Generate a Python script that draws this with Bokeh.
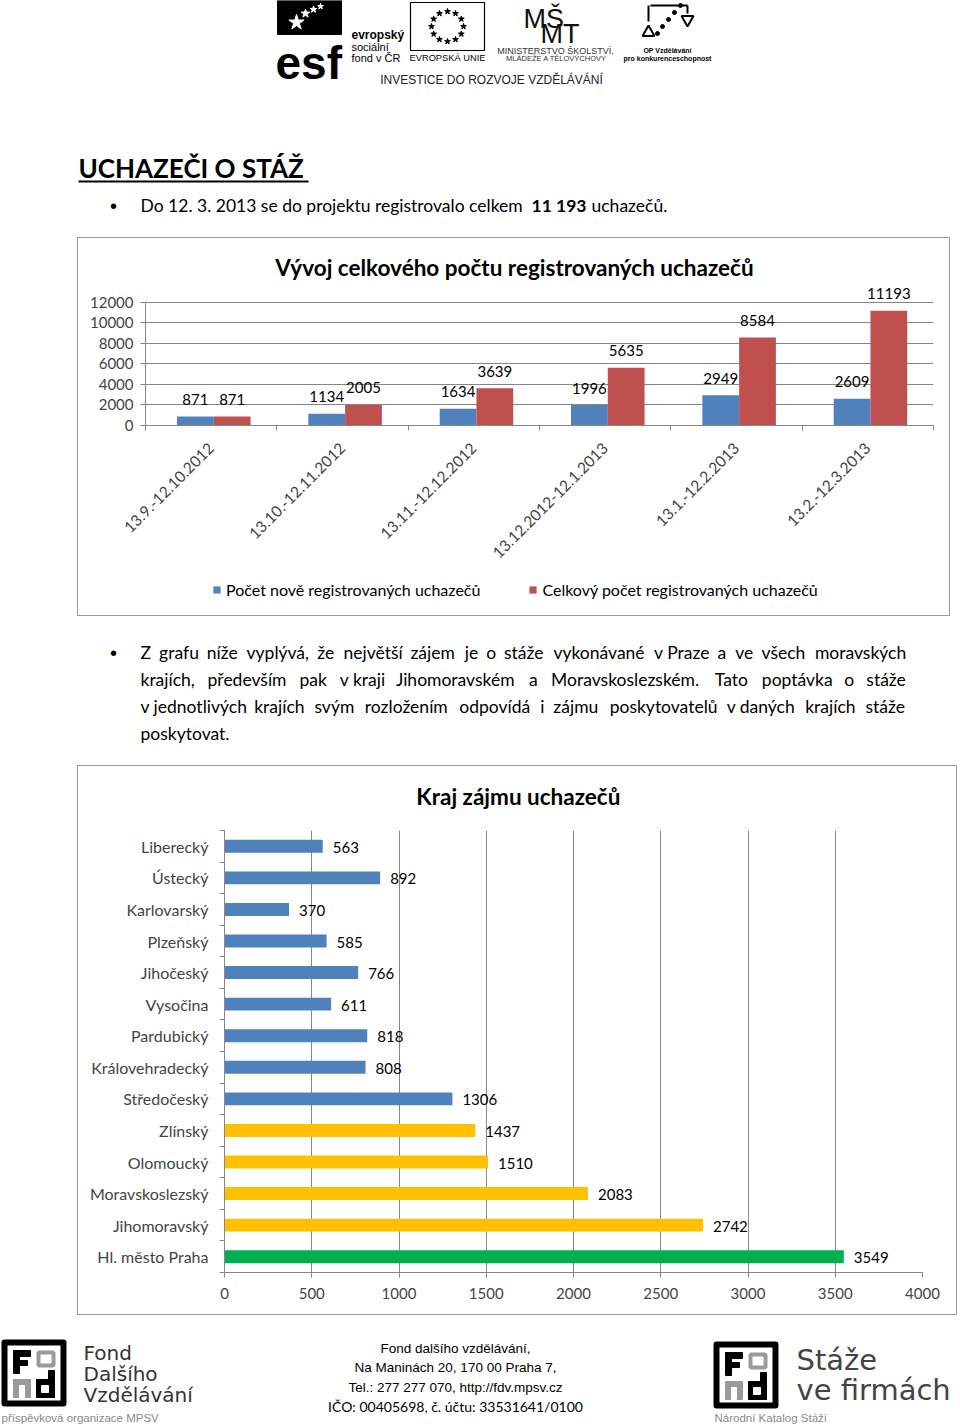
import unicodedata
import numpy as np
from math import pi
from bokeh.plotting import figure
from bokeh.models import Range1d, FixedTicker, Legend, LegendItem, Spacer
from bokeh.layouts import column, row
from bokeh.core.properties import value
from bokeh.embed import file_html
from bokeh.resources import INLINE

# ---------------- data ----------------
periods = ["13.9.-12.10.2012", "13.10.-12.11.2012", "13.11.-12.12.2012",
           "13.12.2012-12.1.2013", "13.1.-12.2.2013", "13.2.-12.3.2013"]
new_applicants = [871, 1134, 1634, 1996, 2949, 2609]
total_applicants = [871, 2005, 3639, 5635, 8584, 11193]
count_ticks = [0, 2000, 4000, 6000, 8000, 10000, 12000]
series_names = ["Počet nově registrovaných uchazečů", "Celkový počet registrovaných uchazečů"]

regions = ["Liberecký", "Ústecký", "Karlovarský", "Plzeňský", "Jihočeský", "Vysočina",
           "Pardubický", "Královehradecký", "Středočeský", "Zlínský", "Olomoucký",
           "Moravskoslezský", "Jihomoravský", "Hl. město Praha"]
region_counts = [563, 892, 370, 585, 766, 611, 818, 808, 1306, 1437, 1510, 2083, 2742, 3549]
moravian_regions = ["Zlínský", "Olomoucký", "Moravskoslezský", "Jihomoravský"]
capital_region = "Hl. město Praha"
region_ticks = [0, 500, 1000, 1500, 2000, 2500, 3000, 3500, 4000]

# ---------------- style ----------------
FONT = "Lato"
SANS = "Liberation Sans"
BLUE, RED, YELLOW, GREEN = "#4F81BD", "#C0504D", "#FFC000", "#00B050"
GRID = "#868686"
EDGE = "1px solid #9a9a9a"
SIDES = {"t": "top", "l": "left", "r": "right", "b": "bottom"}


def box_styles(sides):
    return {f"border-{SIDES[s]}": EDGE for s in sides}


def sheet(x0, y0, w, h, sides="", mb_left=0, mb_right=0):
    """A plain drawing surface whose data units are the page's pixels."""
    ix0 = x0 + (1 if "l" in sides else 0) + mb_left
    ix1 = x0 + w - (1 if "r" in sides else 0) - mb_right
    iy0 = y0 + (1 if "t" in sides else 0)
    iy1 = y0 + h - (1 if "b" in sides else 0)
    p = figure(width=w, height=h, x_range=Range1d(ix0, ix1), y_range=Range1d(iy1, iy0),
               x_axis_location=None, y_axis_location=None, min_border=0,
               min_border_left=mb_left, min_border_right=mb_right,
               toolbar_location=None, output_backend="svg", styles=box_styles(sides))
    p.xgrid.visible = False
    p.ygrid.visible = False
    p.outline_line_color = None
    return p


def put(p, x, y, s, size, font=FONT, style="normal", color="black", align="left", baseline="middle"):
    p.text(x=[x], y=[y], text=[s], text_font=value(font), text_font_size=f"{size}px",
           text_font_style=style, text_color=color, text_align=align, text_baseline=baseline)


# ---------------- header ----------------
hd = sheet(0, 0, 960, 237)
# ESF logo
hd.quad(left=[277], right=[341], top=[0], bottom=[34], color="black")
put(hd, 275, 62, "esf", 46, SANS, "bold", baseline="alphabetic")
hd.scatter(x=[296, 305, 313, 320], y=[22, 13, 9, 6], marker="star", size=[16, 9, 7, 6], color="white")
put(hd, 351, 34, "evropský", 12, SANS, "bold")
put(hd, 351, 46, "sociální", 11, SANS)
put(hd, 351, 57, "fond v ČR", 11, SANS)
# EU flag
hd.quad(left=[410], right=[484], top=[2], bottom=[50], fill_color=None, line_color="black", line_width=1.2)
ang = np.arange(12) * pi / 6
hd.scatter(x=447 + 16 * np.cos(ang), y=26 + 15 * np.sin(ang), marker="star", size=6, color="black")
put(hd, 447, 57, "EVROPSKÁ UNIE", 9.3, SANS, align="center")
# MSMT
put(hd, 523, 18, "MŠ", 27, SANS, color="#111111")
put(hd, 540, 33, "MT", 27, SANS, color="#111111")
put(hd, 555, 50, "MINISTERSTVO ŠKOLSTVÍ,", 9, SANS, color="#333333", align="center")
put(hd, 556, 58, "MLÁDEŽE A TĚLOVÝCHOVY", 7.5, SANS, color="#333333", align="center")
# OP logo
hd.multi_line(xs=[[650, 687], [648, 648], [687, 687]], ys=[[5, 5], [5, 21], [5, 13]],
              line_color="black", line_width=2)
hd.scatter(x=[648, 687], y=[32, 19], marker=["triangle", "inverted_triangle"], size=12,
           fill_color="white", line_color="black", line_width=2)
hd.scatter(x=[657, 662, 668, 674, 680], y=[33, 26, 19, 12, 5], marker="circle", size=4, color="black")
put(hd, 667, 50, "OP Vzdělávání", 7, SANS, "bold", align="center")
put(hd, 667, 58, "pro konkurenceschopnost", 7, SANS, "bold", align="center")
put(hd, 491, 79, "INVESTICE DO ROZVOJE VZDĚLÁVÁNÍ", 12, SANS, color="#222222", align="center")
# heading + first bullet
put(hd, 78, 167, "UCHAZEČI O STÁŽ", 26, FONT, "bold")
hd.line(x=[78, 308], y=[181, 181], line_color="black", line_width=2)
put(hd, 113, 205, "•", 20, SANS, align="center")
put(hd, 140, 205, "Do 12. 3. 2013 se do projektu registrovalo celkem", 17.5)
put(hd, 531, 205, "11 193", 17.5, style="bold")
put(hd, 591, 205, "uchazečů.", 17.5)

# ---------------- chart 1 ----------------
C1_L, C1_R = 67, 18          # frame borders inside the 873px box
t1 = sheet(77, 237, 873, 45, "tlr", C1_L, C1_R)
put(t1, 513, 266, "Vývoj celkového počtu registrovaných uchazečů", 22.5, FONT, "bold", align="center")

cat_x = np.arange(len(periods)) + 0.5
BAR_W = 0.28
# frame spans page y 282..426; the 12000 grid line sits at y 302
p1 = figure(width=873, height=284, x_range=Range1d(0, len(periods)),
            y_range=Range1d(0, count_ticks[-1] * 144 / 124),
            min_border_left=C1_L, min_border_right=C1_R, min_border_top=0, min_border_bottom=140,
            toolbar_location=None, output_backend="svg", styles=box_styles("lr"))
p1.outline_line_color = None
p1.xgrid.visible = False
p1.ygrid.grid_line_color = GRID
p1.vbar(x=cat_x - BAR_W / 2 + 0.02, top=new_applicants, width=BAR_W, fill_color=BLUE, line_color=None)
p1.vbar(x=cat_x + BAR_W / 2 + 0.02, top=total_applicants, width=BAR_W, fill_color=RED, line_color=None)
for xs, vals in ((cat_x - BAR_W / 2 + 0.02, new_applicants), (cat_x + BAR_W / 2 + 0.02, total_applicants)):
    p1.text(x=xs, y=vals, text=[str(v) for v in vals], text_font=value(FONT), text_font_size="15px",
            text_align="center", text_baseline="middle", y_offset=-17)

xa = p1.xaxis[0]
xa.ticker = FixedTicker(ticks=list(cat_x), minor_ticks=list(range(len(periods) + 1)))
xa.major_label_overrides = {float(c): lab for c, lab in zip(cat_x, periods)}
xa.major_tick_out = 0
xa.major_tick_in = 0
xa.major_tick_line_color = None
xa.minor_tick_line_color = GRID
xa.minor_tick_out = 5
xa.minor_tick_in = 0
xa.axis_line_color = GRID
xa.major_label_orientation = pi / 4
xa.major_label_text_font = FONT
xa.major_label_text_font_size = "15.5px"
xa.major_label_standoff = 15

ya = p1.yaxis[0]
ya.ticker = FixedTicker(ticks=count_ticks)
ya.bounds = (count_ticks[0], count_ticks[-1])
ya.minor_tick_line_color = None
ya.major_tick_out = 5
ya.major_tick_in = 0
ya.major_tick_line_color = GRID
ya.axis_line_color = GRID
ya.major_label_text_font = FONT
ya.major_label_text_font_size = "15px"
ya.major_label_standoff = 7

l1 = sheet(77, 566, 873, 50, "lrb", C1_L, C1_R)
key_new = l1.vbar(x=[-10000], top=[-10000], width=1, fill_color=BLUE, line_color=None)
key_tot = l1.vbar(x=[-10000], top=[-10000], width=1, fill_color=RED, line_color=None)
legend = Legend(items=[LegendItem(label=series_names[0], renderers=[key_new]),
                       LegendItem(label=series_names[1], renderers=[key_tot])],
                orientation="horizontal", location=(67, 17), label_text_font=FONT,
                label_text_font_size="16px", label_text_color="black", glyph_width=9, glyph_height=9,
                label_standoff=5, spacing=48, border_line_color=None, background_fill_alpha=0,
                padding=0, margin=0)
l1.add_layout(legend)

# ---------------- paragraph (justified like the original) ----------------
para = sheet(0, 616, 960, 149)
put(para, 113, 652, "•", 20, SANS, align="center")
lines = ["Z grafu níže vyplývá, že největší zájem je o stáže vykonávané v Praze a ve všech moravských",
         "krajích, především pak v kraji Jihomoravském a Moravskoslezském. Tato poptávka o stáže",
         "v jednotlivých krajích svým rozložením odpovídá i zájmu poskytovatelů v daných krajích stáže",
         "poskytovat."]
PARA_SIZE = 17.5
natural_px = [701, 678, 710]     # rendered width of each full line at PARA_SIZE
LINE_X0, LINE_X1 = 140, 907
SPACE_PX = 3.6
CHAR_W = {"a": .556, "b": .556, "c": .5, "d": .556, "e": .556, "f": .278, "g": .556, "h": .556,
          "i": .222, "j": .222, "k": .5, "l": .222, "m": .833, "n": .556, "o": .556, "p": .556,
          "r": .333, "s": .5, "t": .278, "u": .556, "v": .5, "y": .5, "z": .5, "Z": .611,
          "T": .611, "J": .5, "M": .833, ",": .278, ".": .278, " ": .2}


def est_w(s):
    return sum(CHAR_W.get(unicodedata.normalize("NFD", ch)[0], .55) for ch in s)


def units_of(line):
    toks, out = line.split(" "), []
    i = 0
    while i < len(toks):
        if toks[i] == "v" and i + 1 < len(toks):
            out.append(toks[i] + " " + toks[i + 1])
            i += 2
        else:
            out.append(toks[i])
            i += 1
    return out


for li, ln in enumerate(lines):
    y = 652 + 27 * li
    if li >= len(natural_px):
        put(para, LINE_X0, y, ln, PARA_SIZE)
        continue
    units = units_of(ln)
    gaps = len(units) - 1
    scale = (natural_px[li] - gaps * SPACE_PX) / sum(est_w(u) for u in units)
    extra = (LINE_X1 - LINE_X0 - natural_px[li]) / gaps
    xs, x = [], LINE_X0
    for u in units:
        xs.append(x)
        x += est_w(u) * scale + SPACE_PX + extra
    para.text(x=xs, y=[y] * len(units), text=units, text_font=value(FONT),
              text_font_size=f"{PARA_SIZE}px", text_align="left", text_baseline="middle")

# ---------------- chart 2 ----------------
C2_L, C2_R = 146, 36
t2 = sheet(77, 765, 880, 47, "tlr", C2_L, C2_R)
put(t2, 517, 795, "Kraj zájmu uchazečů", 22.5, FONT, "bold", align="center")

reg_y = np.arange(len(regions)) + 0.5
reg_colors = [GREEN if r == capital_region else (YELLOW if r in moravian_regions else BLUE) for r in regions]
p2 = figure(width=880, height=503, x_range=Range1d(0, region_ticks[-1]), y_range=Range1d(len(regions), 0),
            min_border_left=C2_L, min_border_right=C2_R, min_border_top=18, min_border_bottom=43,
            toolbar_location=None, output_backend="svg", styles=box_styles("lrb"))
p2.outline_line_color = None
p2.ygrid.visible = False
p2.xgrid.grid_line_color = GRID
p2.hbar(y=reg_y, left=0, right=region_counts, height=0.41, fill_color=reg_colors, line_color=None)
p2.text(x=region_counts, y=reg_y, text=[str(v) for v in region_counts], text_font=value(FONT),
        text_font_size="15px", text_align="left", text_baseline="middle", x_offset=10, y_offset=1)

xb = p2.xaxis[0]
xb.ticker = FixedTicker(ticks=region_ticks)
xb.minor_tick_line_color = None
xb.major_tick_out = 5
xb.major_tick_in = 0
xb.major_tick_line_color = GRID
xb.axis_line_color = GRID
xb.major_label_text_font = FONT
xb.major_label_text_font_size = "15px"
xb.major_label_standoff = 10

yb = p2.yaxis[0]
yb.ticker = FixedTicker(ticks=list(reg_y), minor_ticks=list(range(len(regions) + 1)))
yb.major_label_overrides = {float(c): lab for c, lab in zip(reg_y, regions)}
yb.major_tick_out = 0
yb.major_tick_in = 0
yb.major_tick_line_color = None
yb.minor_tick_line_color = GRID
yb.minor_tick_out = 5
yb.minor_tick_in = 0
yb.axis_line_color = GRID
yb.major_label_text_font = FONT
yb.major_label_text_font_size = "16px"
yb.major_label_standoff = 11

# ---------------- footer ----------------
ft = sheet(0, 1315, 960, 110)


def fdv_logo(p, x, y):
    p.quad(left=[x + 3], right=[x + 62], top=[y + 3], bottom=[y + 64], fill_color=None,
           line_color="black", line_width=6, line_join="round")
    p.quad(left=[x + 12, x + 12, x + 12], right=[x + 18, x + 29, x + 26],
           top=[y + 11, y + 11, y + 21], bottom=[y + 34, y + 17, y + 26], color="black")
    p.quad(left=[x + 37], right=[x + 52], top=[y + 13], bottom=[y + 26], fill_color=None,
           line_color="#9a9a9a", line_width=4)
    p.quad(left=[x + 12], right=[x + 29], top=[y + 40], bottom=[y + 58], color="#9a9a9a")
    p.quad(left=[x + 18], right=[x + 23], top=[y + 46], bottom=[y + 58], color="white")
    p.quad(left=[x + 35, x + 47], right=[x + 53, x + 53], top=[y + 40, y + 31],
           bottom=[y + 58, y + 58], color="black")
    p.quad(left=[x + 40], right=[x + 47], top=[y + 46], bottom=[y + 53], color="white")


fdv_logo(ft, 1, 1339)
put(ft, 83, 1352, "Fond", 20, "DejaVu Sans", color="#333333")
put(ft, 83, 1373, "Dalšího", 20, "DejaVu Sans", color="#333333")
put(ft, 83, 1394, "Vzdělávání", 20, "DejaVu Sans", color="#333333")
put(ft, 1, 1417, "příspěvková organizace MPSV", 11.5, SANS, color="#8a8a8a")
put(ft, 455, 1348, "Fond dalšího vzdělávání,", 13.5, SANS, align="center")
put(ft, 455, 1367, "Na Maninách 20, 170 00 Praha 7,", 13.5, SANS, align="center")
put(ft, 455, 1387, "Tel.: 277 277 070, http://fdv.mpsv.cz", 13.5, SANS, align="center")
put(ft, 455, 1406, "IČO: 00405698, č. účtu: 33531641/0100", 14, FONT, align="center")
fdv_logo(ft, 713, 1341)
put(ft, 796, 1359, "Stáže", 29, "DejaVu Sans", color="#444444")
put(ft, 796, 1389, "ve firmách", 29, "DejaVu Sans", color="#444444")
put(ft, 714, 1417, "Národní Katalog Stáží", 11.5, SANS, color="#8a8a8a")

page = column(hd,
              row(Spacer(width=77, height=379), column(t1, p1, l1)),
              para,
              row(Spacer(width=77, height=550), column(t2, p2)),
              ft)
open("out.html", "w").write(file_html(page, INLINE, title="Uchazeči o stáž"))
